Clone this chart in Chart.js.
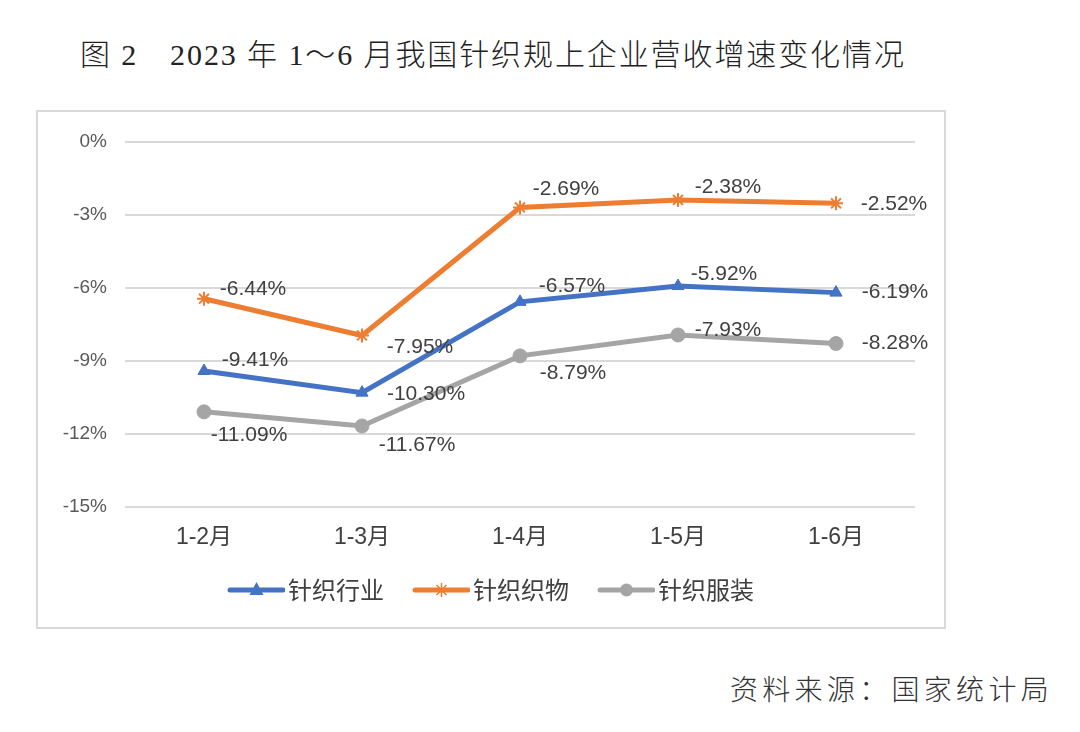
<!DOCTYPE html>
<html>
<head>
<meta charset="utf-8">
<script src="https://cdn.jsdelivr.net/npm/chart.js@4.4.1/dist/chart.umd.min.js"></script>
<style>
  html, body { margin: 0; padding: 0; background: #ffffff; width: 1080px; height: 732px; overflow: hidden; }
  #title {
    position: absolute; left: 80px; top: 30px; width: 960px;
    font-family: "Liberation Serif", "Noto Sans CJK SC", serif; font-weight: 300;
    font-size: 30px; color: #222; white-space: nowrap; letter-spacing: 1.9px;
  }
  #box {
    position: absolute; left: 36px; top: 110px; width: 906px; height: 515px;
    border: 2px solid #d9d9d9; background: #fff;
  }
  #source {
    position: absolute; left: 730px; top: 668px;
    font-family: "Noto Sans CJK SC", sans-serif; font-weight: 300;
    font-size: 28px; color: #333; letter-spacing: 4.3px; white-space: nowrap;
  }
</style>
</head>
<body>
<div id="title">图 2　2023 年 1～6 月我国针织规上企业营收增速变化情况</div>
<div id="box"><canvas id="c" width="906" height="515"></canvas></div>
<div id="source">资料来源：国家统计局</div>
<script>
const categories = ["1-2月", "1-3月", "1-4月", "1-5月", "1-6月"];
const seriesNames = ["针织行业", "针织织物", "针织服装"];
const industry = [-9.41, -10.30, -6.57, -5.92, -6.19];
const fabric = [-6.44, -7.95, -2.69, -2.38, -2.52];
const apparel = [-11.09, -11.67, -8.79, -7.93, -8.28];
const yTicks = [0, -3, -6, -9, -12, -15];

const colors = ["#4472C4", "#ED7D31", "#A5A5A5"];
const markers = ["triangle", "star", "circle"];

// label offsets (dx, dy) relative to each point
const labelOffsets = [
  [[51,-11],[64,2],[52,-16],[46,-12],[59,0]],
  [[49,-10],[58,12],[46,-18],[50,-13],[58,1]],
  [[45,23],[55,19],[53,17],[50,-5],[59,0]]
];

// legend icon: canvas 95 wide, the visible line+marker sits in its right part
function legendIcon(color, style) {
  const cv = document.createElement('canvas');
  cv.width = 95; cv.height = 18;
  const g = cv.getContext('2d');
  g.strokeStyle = color; g.fillStyle = color;
  g.lineWidth = 5; g.lineCap = 'round';
  const x0 = 40, x1 = 93, cy = 9, cx = (x0 + x1) / 2;
  g.beginPath(); g.moveTo(x0, cy); g.lineTo(x1, cy); g.stroke();
  if (style === 'triangle') {
    g.beginPath(); g.moveTo(cx, cy - 8); g.lineTo(cx + 7, cy + 5); g.lineTo(cx - 7, cy + 5); g.closePath(); g.fill();
  } else if (style === 'star') {
    g.lineWidth = 1.5; g.lineCap = 'butt';
    g.beginPath();
    g.moveTo(cx, cy - 7); g.lineTo(cx, cy + 7);
    g.moveTo(cx - 5, cy - 5); g.lineTo(cx + 5, cy + 5);
    g.moveTo(cx + 5, cy - 5); g.lineTo(cx - 5, cy + 5);
    g.stroke();
  } else {
    g.beginPath(); g.arc(cx, cy, 6.5, 0, Math.PI * 2); g.fill();
  }
  return cv;
}

const dataLabels = {
  id: 'dataLabels',
  afterDatasetsDraw(chart) {
    const ctx = chart.ctx;
    ctx.save();
    ctx.font = '21px "Liberation Sans", Arial, sans-serif';
    ctx.fillStyle = '#404040';
    ctx.textAlign = 'center';
    ctx.textBaseline = 'middle';
    chart.data.datasets.forEach((ds, i) => {
      const meta = chart.getDatasetMeta(i);
      meta.data.forEach((pt, j) => {
        const off = labelOffsets[i][j];
        ctx.fillText(ds.data[j].toFixed(2) + '%', pt.x + off[0], pt.y + off[1]);
      });
    });
    ctx.restore();
  }
};

const allSeries = [industry, fabric, apparel];
const datasets = allSeries.map((vals, i) => ({
  label: seriesNames[i],
  data: vals,
  borderColor: colors[i],
  backgroundColor: colors[i],
  borderWidth: 5,
  pointStyle: markers[i],
  pointRadius: 7,
  pointBorderWidth: i === 1 ? 2 : 1,
  pointBorderColor: colors[i],
  pointBackgroundColor: colors[i],
  tension: 0,
  fill: false
}));

new Chart(document.getElementById('c'), {
  type: 'line',
  data: { labels: categories, datasets },
  plugins: [dataLabels],
  options: {
    responsive: false,
    animation: false,
    layout: { padding: { top: 30, right: 29, left: 0, bottom: 15 } },
    plugins: {
      tooltip: { enabled: false },
      legend: {
        position: 'bottom',
        labels: {
          usePointStyle: true,
          pointStyleWidth: 77,
          color: '#404040',
          font: { family: '"Noto Sans CJK SC", sans-serif', size: 24 },
          padding: 0,
          generateLabels(chart) {
            return chart.data.datasets.map((ds, i) => ({
              text: ds.label,
              pointStyle: legendIcon(colors[i], markers[i]),
              fillStyle: colors[i],
              strokeStyle: colors[i],
              lineWidth: 0,
              hidden: false,
              datasetIndex: i,
              fontColor: '#404040'
            }));
          }
        }
      }
    },
    scales: {
      x: {
        offset: true,
        afterFit(s) { s.height = 71; },
        grid: { display: false },
        border: { display: false },
        ticks: {
          color: '#404040',
          padding: 11,
          font: { family: '"Liberation Sans", "Noto Sans CJK SC", sans-serif', size: 23, lineHeight: 1 }
        }
      },
      y: {
        min: -15, max: 0,
        afterFit(s) { s.width = 87; },
        afterBuildTicks(s) { s.ticks = yTicks.map(v => ({ value: v })); },
        grid: { color: '#d9d9d9', lineWidth: 2, drawTicks: false },
        border: { display: false },
        ticks: {
          color: '#595959',
          padding: 18,
          font: { family: '"Liberation Sans", sans-serif', size: 19 },
          callback: v => v + '%'
        }
      }
    }
  }
});
</script>
</body>
</html>
